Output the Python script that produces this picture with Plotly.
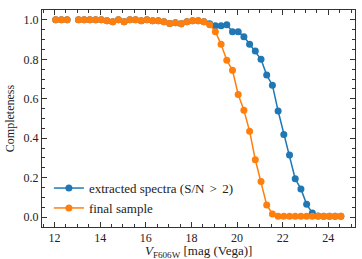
import plotly.graph_objects as go

mag = [12.05 + 0.25 * k for k in range(51)]

final_sample = [1.0, 1.0, 1.0, None, 1.0, 1.0, 1.0, 1.0, 1.0, 0.995,
                0.99, 1.0, 0.99, 1.0, 1.0, 0.995, 1.0, 0.995, 0.995, 0.99,
                0.982, 0.985, 0.98, 0.99, 0.995, 0.995, 0.99, 0.975, 0.94, 0.876,
                0.795, 0.744, 0.622, 0.542, 0.436, 0.291, 0.181, 0.062, 0.016, 0.005,
                0.004, 0.004, 0.004, 0.004, 0.004, 0.004, 0.004, 0.004, 0.004, 0.004, 0.004]

extracted = [1.0, 1.0, 1.0, None, 1.0, 1.0, 1.0, 1.0, 1.0, 0.995,
             0.99, 1.0, 0.99, 1.0, 1.0, 0.995, 1.0, 0.995, 0.995, 0.99,
             0.982, 0.985, 0.98, 0.99, 0.995, 0.995, 0.99, 0.98, 0.97, 0.97,
             0.975, 0.94, 0.94, 0.915, 0.876, 0.842, 0.8, 0.72, 0.669, 0.538,
             0.419, 0.315, 0.194, 0.143, 0.065, 0.021, 0.006, 0.004, 0.004, 0.004, 0.004]

x_ticks = [12, 14, 16, 18, 20, 22, 24]
y_ticks = [0.0, 0.2, 0.4, 0.6, 0.8, 1.0]

BLUE = "#1f77b4"
ORANGE = "#ff7f0e"
FONT = "Liberation Serif"

fig = go.Figure()
fig.add_trace(go.Scatter(x=mag, y=extracted, mode="lines+markers",
                         name="extracted spectra (S/N\u2009\u2009>\u2009\u20092)",
                         line=dict(color=BLUE, width=1.5),
                         marker=dict(color=BLUE, size=7)))
fig.add_trace(go.Scatter(x=mag, y=final_sample, mode="lines+markers",
                         name="final sample",
                         line=dict(color=ORANGE, width=1.5),
                         marker=dict(color=ORANGE, size=7)))

axis_common = dict(showgrid=False, zeroline=False, showline=True, linecolor="#333",
                   linewidth=1, ticks="inside", mirror="allticks", tickcolor="#333",
                   ticklen=5, tickwidth=1, automargin=False,
                   tickfont=dict(family=FONT, size=12, color="#222"))

fig.update_xaxes(range=[11.45, 25.17], tickvals=x_ticks, ticktext=[str(v) for v in x_ticks],
                 minor=dict(ticks="inside", dtick=0.5, ticklen=3, tickcolor="#333"),
                 **axis_common)
fig.update_yaxes(range=[-0.05, 1.05], tickvals=y_ticks, ticktext=[f"{v:.1f}" for v in y_ticks],
                 minor=dict(ticks="inside", dtick=0.05, ticklen=3, tickcolor="#333"),
                 title=dict(text="Completeness", font=dict(family=FONT, size=12, color="#222"),
                            standoff=6),
                 **axis_common)

fig.add_annotation(text="<i>V</i><sub>F606W</sub> [mag (Vega)]", xref="paper", yref="paper",
                   x=0.5, y=-0.1, xanchor="center", yanchor="top", showarrow=False,
                   borderpad=0, yshift=7,
                   font=dict(family=FONT, size=13, color="#222"))

fig.update_layout(width=362, height=259, margin=dict(l=42, r=7, t=10, b=32),
                  paper_bgcolor="white", plot_bgcolor="white",
                  font=dict(family=FONT, size=12, color="#222"),
                  legend=dict(x=0.022, y=0.018, xanchor="left", yanchor="bottom",
                              bgcolor="rgba(255,255,255,0)", borderwidth=0,
                              font=dict(family=FONT, size=13, color="#222"),
                              itemwidth=30, tracegroupgap=0))

fig.write_html("out.html")
